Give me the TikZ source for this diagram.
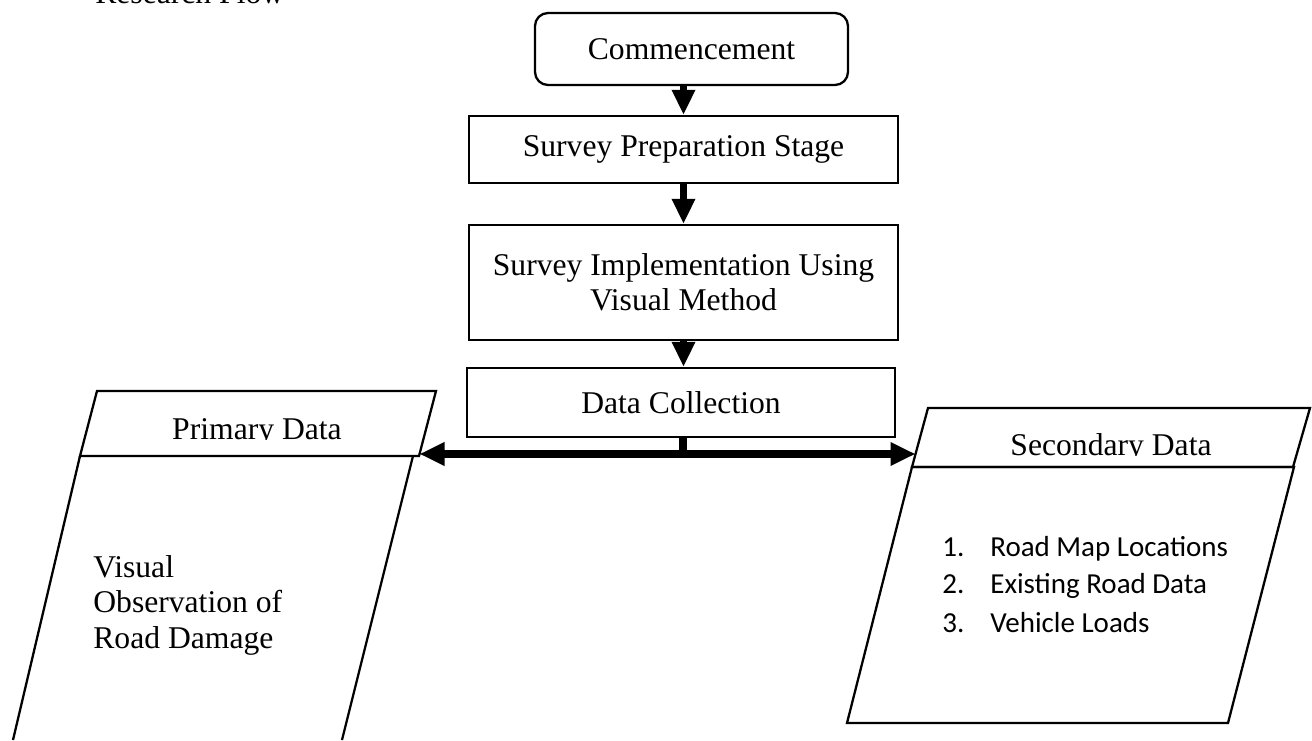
\documentclass[tikz,border=0pt]{standalone}
\usepackage{fontspec}
\setmainfont{Liberation Serif}
\newfontfamily\listfont{Carlito}
\usepackage{tikz}
\usetikzlibrary{arrows.meta}

\tikzset{
	stage/.style={draw, line width=1.3pt, minimum width=8.58cm, align=center, inner sep=2pt},
	flow/.style={line width=4.5pt, -{Triangle[width=0.44cm,length=0.5cm]}},
	io/.style={line width=1.3pt, line join=miter},
	rowlabel/.style={font=\listfont\fontsize{16.5}{20}\selectfont, anchor=base west, inner sep=0pt},
}

\begin{document}
\begin{tikzpicture}[font=\fontsize{18}{20}\selectfont]
		% Frame and title:
		\useasboundingbox (0,0) rectangle (26.24,14.8);
		\clip (0,0) rectangle (26.24,14.8);
		\node[anchor=base west, inner sep=0pt](title) at (1.90,14.72){Research Flow};

		% Stages:
		\node[draw, line width=1.3pt, rounded corners=0.26cm, minimum width=6.26cm, minimum height=1.44cm](start) at (13.83,13.82){Commencement};
		\node[stage, minimum height=1.34cm](prep) at (13.67,11.81){Survey Preparation Stage};
		\node[stage, minimum height=2.30cm](impl) at (13.67,9.15){Survey Implementation Using\\Visual Method};
		\node[stage, minimum width=8.56cm, minimum height=1.38cm](coll) at (13.62,6.75){Data Collection};

		% Arrows:
		\draw[flow] (prep.north |- start.south) -- (prep.north);
		\draw[flow] (prep.south) -- (impl.north);
		\draw[flow] (impl.south) -- (impl.south |- coll.north);
		\coordinate (hub) at (13.66,5.72);
		\coordinate (primin) at (8.39,5.72);
		\coordinate (secin) at (18.31,5.72);
		\draw[line width=4.5pt] (coll.south -| hub) -- (hub);
		\draw[flow] (hub) -- (primin);
		\draw[flow] (hub) -- (secin);

		% Primary data:
		\draw[io] (1.94,6.98) -- (8.72,6.98) -- (8.38,5.68) -- (1.60,5.68) -- cycle;
		\draw[io] (1.60,5.68) -- (0.26,0);
		\draw[io] (8.26,5.68) -- (6.84,0);
		\begin{scope}
			\clip (0,6.02) rectangle (10,7);
			\node[anchor=base](primary) at (5.14,6.02){Primary Data};
		\end{scope}
		\node[anchor=base west, align=left, inner sep=0pt](visual) at (1.86,1.84){Visual\\Observation of\\Road Damage};

		% Secondary data:
		\draw[io] (18.56,6.64) -- (26.20,6.64) -- (25.86,5.46) -- (18.24,5.46) -- cycle;
		\draw[io] (18.24,5.46) -- (25.88,5.46) -- (24.56,0.34) -- (16.94,0.34) -- cycle;
		\begin{scope}
			\clip (17,5.70) rectangle (26.24,7);
			\node[anchor=base](secondary) at (22.22,5.70){Secondary Data};
		\end{scope}
		\begin{scope}
			\clip (16,0) rectangle (24.56,5);
			\foreach \num/\txt/\y in {1/Road Map Locations/3.68, 2/Existing Road Data/2.94, 3/Vehicle Loads/2.16}{
				\node[rowlabel](num\num) at (18.84,\y){\num.};
				\node[rowlabel](row\num) at (19.80,\y){\txt};
			}
		\end{scope}
	\end{tikzpicture}
\end{document}
